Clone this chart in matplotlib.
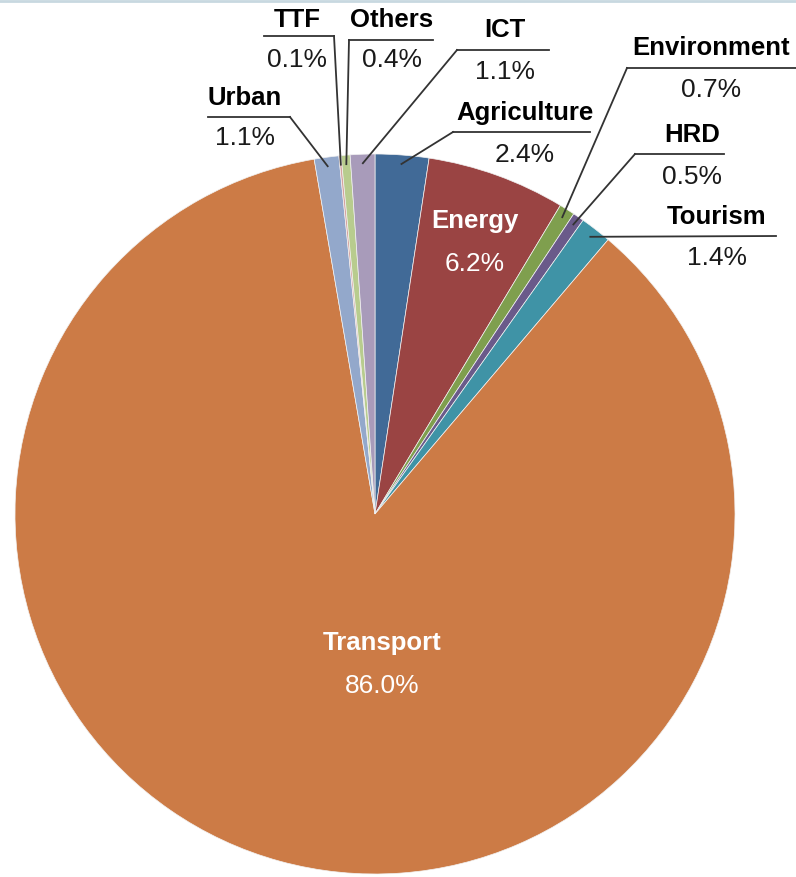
import numpy as np
import matplotlib.pyplot as plt

# Sector shares, clockwise from 12 o'clock
sectors = ["Agriculture", "Energy", "Environment", "HRD", "Tourism",
           "Transport", "Urban", "TTF", "Others", "ICT"]
shares = [2.4, 6.2, 0.7, 0.5, 1.4, 86.0, 1.1, 0.1, 0.4, 1.1]
colors = ["#416a97", "#9a4443", "#7f9f4e", "#6a5a8a", "#3f93a6",
          "#cc7b46", "#93a8cb", "#d6a3a0", "#b8cc8e", "#a89bba"]

W, H = 796, 877
cx, cy, R = 375, H - 514, 360

fig = plt.figure(figsize=(W / 100, H / 100), dpi=100)
ax = fig.add_axes([0, 0, 1, 1])

wedges, _ = ax.pie(shares, colors=colors, startangle=90, counterclock=False,
                   center=(cx, cy), radius=R, normalize=True,
                   wedgeprops=dict(edgecolor="#f2f2f2", linewidth=0.5))
ax.set_xlim(0, W)
ax.set_ylim(0, H)
ax.set_aspect("equal")
ax.axis("off")

# label layout in pixel coords (y from top):
# text x, name y, pct y, underline y, underline x0, x1, end the leader leaves from
layout = {
    "TTF":         (297, 20, 60, 36, 264, 334, "right"),
    "Others":      (392, 20, 60, 40, 349, 433, "left"),
    "ICT":         (505, 30, 72, 50, 457, 549, "left"),
    "Urban":       (245, 98, 138, 117, 208, 290, "right"),
    "Agriculture": (525, 113, 155, 132, 453, 590, "left"),
    "Environment": (711, 48, 90, 68, 627, 796, "left"),
    "HRD":         (692, 135, 177, 154, 635, 724, "left"),
    "Tourism":     (717, 217, 258, 236, 610, 776, "left"),
}
inside = {"Energy": (475, 221, 264), "Transport": (382, 643, 686)}

name_kw = dict(ha="center", va="center", fontsize=18.5, fontweight="bold",
               family="Liberation Sans")
pct_kw = dict(ha="center", va="center", fontsize=19, family="Liberation Sans")

for w, name, val in zip(wedges, sectors, shares):
    mid = np.deg2rad((w.theta1 + w.theta2) / 2)
    ax_x = cx + 0.975 * R * np.cos(mid)
    ax_y = cy + 0.975 * R * np.sin(mid)
    pct = f"{val:.1f}%"
    if name in layout:
        tx, ny, py, uy, x0, x1, end = layout[name]
        ax.text(tx, H - ny, name, color="black", **name_kw)
        ax.text(tx, H - py, pct, color="#1a1a1a", **pct_kw)
        lx = x0 if end == "left" else x1
        if name == "Tourism":
            ax.plot([ax_x, x1], [ax_y, H - uy], color="#333333", lw=1.3)
        else:
            ax.plot([x0, x1], [H - uy, H - uy], color="#333333", lw=1.3)
            ax.plot([lx, ax_x], [H - uy, ax_y], color="#333333", lw=1.3)
    else:
        tx, ny, py = inside[name]
        ax.text(tx, H - ny, name, color="white", **name_kw)
        ax.text(tx, H - py, pct, color="white", **pct_kw)

# thin border along the top edge
ax.plot([0, W], [H - 1, H - 1], color="#c8d8e0", lw=2, clip_on=False)

fig.savefig("out.png", dpi=100)
